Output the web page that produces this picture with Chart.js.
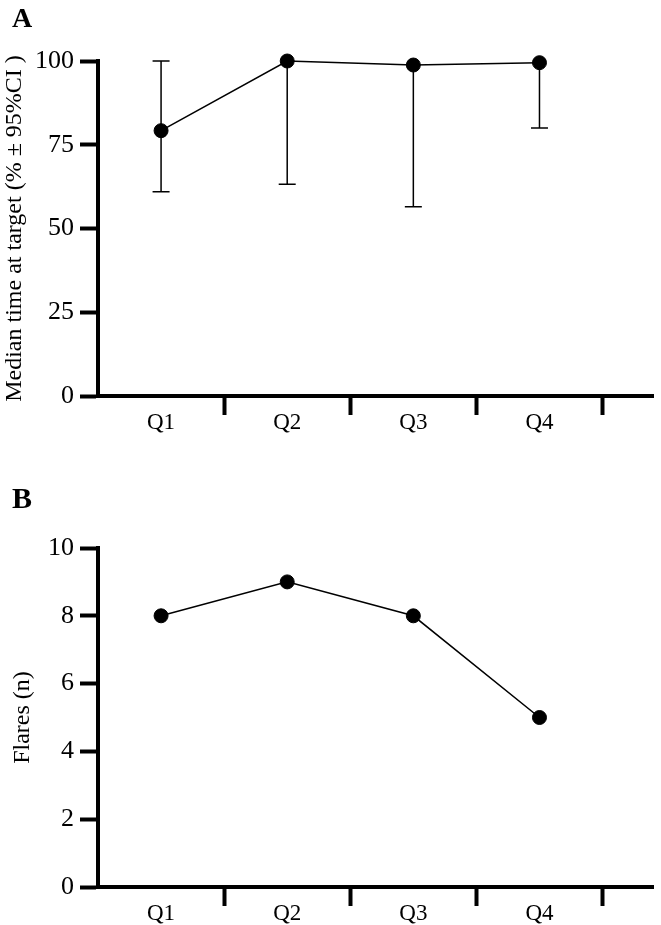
<!DOCTYPE html>
<html>
<head>
<meta charset="utf-8">
<script src="https://cdn.jsdelivr.net/npm/chart.js@4"></script>
<style>
  html, body { margin: 0; padding: 0; background: #fff; }
  #wrap { position: relative; width: 661px; height: 925px; overflow: hidden; }
  canvas { position: absolute; left: 0; }
  .panel { position: absolute; left: 12px; font-family: 'Liberation Serif', 'Times New Roman', serif; font-weight: bold; color: #000; line-height: 1; }
</style>
</head>
<body>
<div id="wrap">
  <canvas id="cA" width="661" height="460" style="top:0"></canvas>
  <canvas id="cB" width="661" height="465" style="top:460px"></canvas>
  <div class="panel" style="top:4px;font-size:28px;">A</div>
  <div class="panel" style="top:483px;font-size:30px;">B</div>
</div>
<script>
// ---- data ----
const categories = ['Q1', 'Q2', 'Q3', 'Q4'];
const timeMedian = [79.2, 100, 98.8, 99.5];
const timeLower  = [61, 63.2, 56.5, 80];
const timeUpper  = [100, 100, 98.8, 99.5];
const flares     = [8, 9, 8, 5];
const yTicksA = [0, 25, 50, 75, 100];
const yTicksB = [0, 2, 4, 6, 8, 10];

const FONT = "'Liberation Serif', 'Times New Roman', serif";

const errorBars = {
  id: 'errorBars',
  beforeDatasetsDraw(chart, args, opts) {
    if (!opts || !opts.lower) return;
    const {ctx} = chart;
    const xs = chart.scales.x, ys = chart.scales.y;
    ctx.save();
    ctx.strokeStyle = '#000';
    ctx.lineWidth = 1.5;
    const cap = 8.5;
    opts.lower.forEach((lo, i) => {
      const hi = opts.upper[i];
      const v = opts.value[i];
      const px = xs.getPixelForValue(i);
      const pLo = ys.getPixelForValue(lo);
      const pHi = ys.getPixelForValue(hi);
      ctx.beginPath();
      ctx.moveTo(px, pLo); ctx.lineTo(px, pHi);
      ctx.moveTo(px - cap, pLo); ctx.lineTo(px + cap, pLo);
      if (hi > v + 0.01) { ctx.moveTo(px - cap, pHi); ctx.lineTo(px + cap, pHi); }
      ctx.stroke();
    });
    ctx.restore();
  }
};

function makeChart(id, values, yMax, yStep, yTitle, titlePad, padTop, xHeight, err) {
  return new Chart(document.getElementById(id), {
    type: 'line',
    data: {
      datasets: [{
        data: values.map((v, i) => ({x: i, y: v})),
        borderColor: '#000',
        borderWidth: 1.5,
        pointRadius: 7,
        pointBorderWidth: 1,
        pointBackgroundColor: '#000',
        pointBorderColor: '#000',
        clip: false,
        tension: 0
      }]
    },
    options: {
      responsive: false,
      animation: false,
      devicePixelRatio: 1,
      layout: { padding: { top: padTop, right: 3, left: 0, bottom: 0 } },
      plugins: {
        legend: { display: false },
        tooltip: { enabled: false },
        errorBars: err || {}
      },
      scales: {
        x: {
          type: 'linear',
          min: -0.5,
          max: 3.9,
          afterBuildTicks: s => { s.ticks = [0, 0.5, 1, 1.5, 2, 2.5, 3, 3.5].map(v => ({value: v})); },
          afterFit: s => { s.height = xHeight; },
          border: { display: true, color: '#000', width: 4 },
          grid: {
            drawOnChartArea: false,
            drawTicks: true,
            tickLength: 19,
            tickWidth: 4,
            tickColor: c => (c.tick && Number.isInteger(c.tick.value)) ? 'rgba(0,0,0,0)' : '#000'
          },
          ticks: {
            autoSkip: false,
            maxRotation: 0,
            padding: -6,
            color: '#000',
            font: { family: FONT, size: 23 },
            callback: v => Number.isInteger(v) ? categories[v] : ''
          }
        },
        y: {
          min: 0,
          max: yMax,
          afterBuildTicks: s => { s.ticks = (yMax === 100 ? yTicksA : yTicksB).map(v => ({value: v})); },
          afterFit: s => { s.width = 98; },
          border: { display: true, color: '#000', width: 4 },
          grid: {
            drawOnChartArea: false,
            drawTicks: true,
            tickLength: 18,
            tickWidth: 4,
            tickColor: '#000'
          },
          ticks: {
            padding: 6,
            color: '#000',
            font: { family: FONT, size: 26 }
          },
          title: {
            display: true,
            text: yTitle,
            color: '#000',
            padding: { top: titlePad, bottom: 0 },
            font: { family: FONT, size: 24 }
          }
        }
      }
    },
    plugins: [errorBars]
  });
}

makeChart('cA', timeMedian, 100, 25, 'Median time at target (% \u00b1 95%CI )', 0, 61, 64,
  { lower: timeLower, upper: timeUpper, value: timeMedian });
makeChart('cB', flares, 10, 2, 'Flares (n)', 8, 88, 38, null);
</script>
</body>
</html>
